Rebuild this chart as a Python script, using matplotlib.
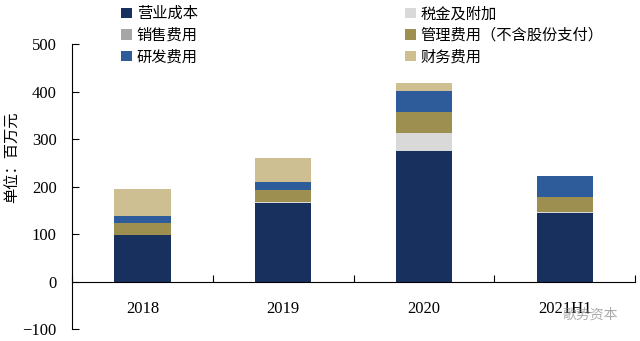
import numpy as np
import matplotlib.pyplot as plt

plt.rcParams['font.family'] = ['Liberation Serif', 'Noto Sans CJK SC']

years = ['2018', '2019', '2020', '2021H1']
series_names = ['营业成本', '税金及附加', '销售费用', '管理费用（不含股份支付）', '研发费用', '财务费用']
cost = [97, 165, 274, 144]
tax = [2, 2.5, 38, 3]
sales = [0, 0, 0, 0]
admin = [24, 25, 44, 30]
rnd = [14, 18, 45, 45]
finance = [58, 50, 16, -3]
colors = ['#17305e', '#d9d9d9', '#a6a6a6', '#9c8f4f', '#2e5c9a', '#cdbf92']

values = [cost, tax, sales, admin, rnd, finance]

fig = plt.figure(figsize=(6.4, 3.41), dpi=100)
ax = fig.add_axes([0.1125, 0.035, 0.88, 0.836])

x = np.arange(len(years))
pos_bottom = np.zeros(len(years))
neg_bottom = np.zeros(len(years))
handles = []
for name, vals, c in zip(series_names, values, colors):
    vals = np.array(vals, dtype=float)
    bottom = np.where(vals >= 0, pos_bottom, neg_bottom)
    b = ax.bar(x, vals, 0.4, bottom=bottom, color=c, label=name, linewidth=0)
    handles.append(b)
    pos_bottom += np.where(vals >= 0, vals, 0)
    neg_bottom += np.where(vals < 0, vals, 0)

ax.set_xlim(-0.5, 3.5)
ax.set_ylim(-100, 500)
ax.set_yticks(range(-100, 501, 100))
ax.set_xticks(x)
ax.set_xticklabels(years)
ax.set_xticks(np.arange(-0.5, 3.6, 1), minor=True)
ax.tick_params(axis='x', which='major', length=0, pad=14, labelsize=12)
ax.tick_params(axis='x', which='minor', direction='in', length=5, width=0.8)
ax.tick_params(axis='y', direction='in', length=5, width=0.8, labelsize=12, pad=11)
ax.spines['top'].set_visible(False)
ax.spines['right'].set_visible(False)
ax.spines['bottom'].set_position(('data', 0))
ax.spines['left'].set_linewidth(0.8)
ax.spines['bottom'].set_linewidth(0.8)

fig.text(0.02, 0.54, '单位：百万元', rotation=90, ha='center', va='center',
         fontsize=11, family=['Noto Sans CJK SC'])

order = [0, 2, 4, 1, 3, 5]
fig.legend([handles[i] for i in order], [series_names[i] for i in order],
           ncol=2, loc='upper left', bbox_to_anchor=(0.168, 1.025), frameon=False,
           prop={'family': 'Noto Sans CJK SC', 'size': 11},
           handlelength=0.7, handleheight=0.7, handletextpad=0.3,
           columnspacing=13.6, labelspacing=0.3)

fig.text(0.923, 0.077, '歌势资本', ha='center', va='center', fontsize=10,
         color='#888888', alpha=0.7, family=['Noto Sans CJK SC'])

fig.savefig('out.png', dpi=100, facecolor='white')
